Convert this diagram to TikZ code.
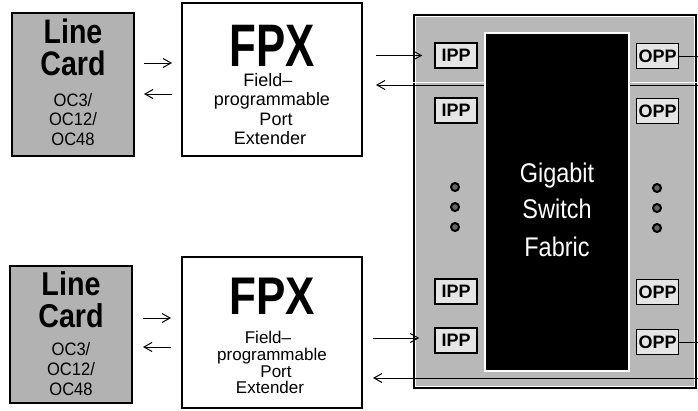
\documentclass[tikz,border=0pt]{standalone}
\usepackage{fontspec}
\setmainfont{Liberation Sans}
\usepackage{graphicx}
\usetikzlibrary{arrows.meta,calc}

\newcommand\hs[2]{\scalebox{#1}[1]{#2}}

\tikzset{
  lcbox/.style={draw, line width=2pt, fill=black!30, inner sep=0},
  fpxbox/.style={draw, line width=2pt, fill=white, inner sep=0},
  swbox/.style={draw, line width=1.5pt, fill=black!28, inner sep=0},
  fabbox/.style={draw=white, line width=1.2pt, fill=black, inner sep=0},
  portbox/.style={draw, line width=1.5pt, fill=black!10, inner sep=0,
    minimum width=42pt, minimum height=25pt,
    font=\fontsize{18}{18}\selectfont\bfseries},
  arr/.style={-{Straight Barb[length=8pt,width=9pt]}, line width=1pt},
  plain/.style={line width=1pt},
  lbl/.style={anchor=base, inner sep=0},
  dotc/.style={circle, draw, line width=2pt, fill=black!60, minimum size=8pt, inner sep=0},
}

\begin{document}
\begin{tikzpicture}[x=1pt,y=-1pt]
\useasboundingbox (0,0) rectangle (698,410);

% ---------- line cards ----------
\node[lcbox, minimum width=122pt, minimum height=143pt] (lc1) at (73,84.5) {};
\node[lcbox, minimum width=122pt, minimum height=137pt] (lc2) at (71,334.5) {};

\node[lbl,font=\fontsize{34}{34}\selectfont\bfseries] (lc1l) at (73,43.5) {\hs{0.84}{Line}};
\node[lbl,font=\fontsize{34}{34}\selectfont\bfseries] (lc1c) at (73,75) {\hs{0.84}{Card}};
\node[lbl,font=\fontsize{18}{18}\selectfont] (lc1o) at (73,106) {\hs{0.92}{OC3/}};
\node[lbl,font=\fontsize{18}{18}\selectfont] (lc1p) at (73,125.5) {\hs{0.92}{OC12/}};
\node[lbl,font=\fontsize{18}{18}\selectfont] (lc1q) at (73,145) {\hs{0.92}{OC48}};

\node[lbl,font=\fontsize{33}{33}\selectfont\bfseries] (lc2l) at (71,295) {\hs{0.87}{Line}};
\node[lbl,font=\fontsize{33}{33}\selectfont\bfseries] (lc2c) at (71,327) {\hs{0.87}{Card}};
\node[lbl,font=\fontsize{18}{18}\selectfont] (lc2o) at (71,355) {\hs{0.92}{OC3/}};
\node[lbl,font=\fontsize{18}{18}\selectfont] (lc2p) at (71,375) {\hs{0.92}{OC12/}};
\node[lbl,font=\fontsize{18}{18}\selectfont] (lc2q) at (71,395) {\hs{0.92}{OC48}};

% ---------- FPX boxes ----------
\node[fpxbox, minimum width=180pt, minimum height=153pt] (fpx1) at (272,79.5) {};
\node[fpxbox, minimum width=180pt, minimum height=151pt] (fpx2) at (272,332.5) {};

\node[lbl,font=\fontsize{60}{60}\selectfont\bfseries] (f1a) at (272,66) {\hs{0.73}{FPX}};
\node[lbl,font=\fontsize{18}{18}\selectfont] (f1b) at (268,86) {Field–};
\node[lbl,font=\fontsize{18}{18}\selectfont] (f1c) at (272,105.5) {programmable};
\node[lbl,font=\fontsize{18}{18}\selectfont] (f1d) at (276,125) {Port};
\node[lbl,font=\fontsize{18}{18}\selectfont] (f1e) at (270,144) {Extender};

\node[lbl,font=\fontsize{53}{53}\selectfont\bfseries] (f2a) at (272,314) {\hs{0.83}{FPX}};
\node[lbl,font=\fontsize{17}{17}\selectfont] (f2b) at (268,343) {Field–};
\node[lbl,font=\fontsize{17}{17}\selectfont] (f2c) at (272,360) {programmable};
\node[lbl,font=\fontsize{17}{17}\selectfont] (f2d) at (276,377) {Port};
\node[lbl,font=\fontsize{17}{17}\selectfont] (f2e) at (270,393) {Extender};

% ---------- switch ----------
\node[swbox, minimum width=282pt, minimum height=373pt] (sw) at (555,201.5) {};
\draw[white, line width=0.8pt] ($(sw.north west)+(2.5,2.5)$) rectangle ($(sw.south east)+(-2.5,-2.5)$);
\node[fabbox, minimum width=144pt, minimum height=338pt] (fab) at (557,202) {};
\draw[white, line width=1pt] (sw.west |- 0,82.5) -- (fab.west |- 0,82.5);
\draw[white, line width=1pt] (fab.east |- 0,82.5) -- (sw.east |- 0,82.5);

\node[lbl,text=white,font=\fontsize{27}{27}\selectfont] (g1) at (557,182) {\hs{0.87}{Gigabit}};
\node[lbl,text=white,font=\fontsize{27}{27}\selectfont] (g2) at (557,218) {\hs{0.87}{Switch}};
\node[lbl,text=white,font=\fontsize{27}{27}\selectfont] (g3) at (557,256) {\hs{0.87}{Fabric}};

\node[portbox] (ipp1) at (456,55.5) {IPP};
\node[portbox] (ipp2) at (456,110.5) {IPP};
\node[portbox] (ipp3) at (456,291.5) {IPP};
\node[portbox] (ipp4) at (456,340.5) {IPP};
\node[portbox] (opp1) at (657.5,56) {OPP};
\node[portbox] (opp2) at (657.5,111) {OPP};
\node[portbox] (opp3) at (657.5,292) {OPP};
\node[portbox] (opp4) at (657.5,342) {OPP};

\node[dotc] (dl1) at (455,187) {};
\node[dotc] (dl2) at (455,207) {};
\node[dotc] (dl3) at (455,227) {};
\node[dotc] (dr1) at (657,188) {};
\node[dotc] (dr2) at (657,208) {};
\node[dotc] (dr3) at (657,228) {};

% ---------- connectors ----------
\draw[arr] ($(lc1.east |- 0,63)+(9,0)$) -- ($(fpx1.west |- 0,63)+(-9,0)$);
\draw[arr] ($(fpx1.west |- 0,94)+(-9,0)$) -- ($(lc1.east |- 0,94)+(9,0)$);
\draw[arr] ($(lc2.east |- 0,318)+(10,0)$) -- ($(fpx2.west |- 0,318)+(-10,0)$);
\draw[arr] ($(fpx2.west |- 0,347)+(-10,0)$) -- ($(lc2.east |- 0,347)+(10,0)$);

\draw[arr] ($(fpx1.east |- ipp1.west)+(13,0)$) -- ($(ipp1.west)+(-12,0)$);
\draw[arr] (fab.west |- 0,85) -- ($(fpx1.east |- 0,85)+(13,0)$);
\coordinate (r1) at (698,85);
\draw[plain] (fab.east |- 0,85) -- (r1);
\coordinate (r2) at (698,56);
\draw[plain] (opp1.east) -- (r2);

\draw[arr] ($(fpx2.east |- 0,338)+(10,0)$) -- ($(ipp4.west |- 0,338)+(-15,0)$);
\coordinate (r3) at (698,342);
\draw[plain] (opp4.east) -- (r3);
\coordinate (r4) at (698,378);
\draw[arr] (r4) -- ($(fpx2.east |- 0,378)+(10,0)$);
\end{tikzpicture}
\end{document}
